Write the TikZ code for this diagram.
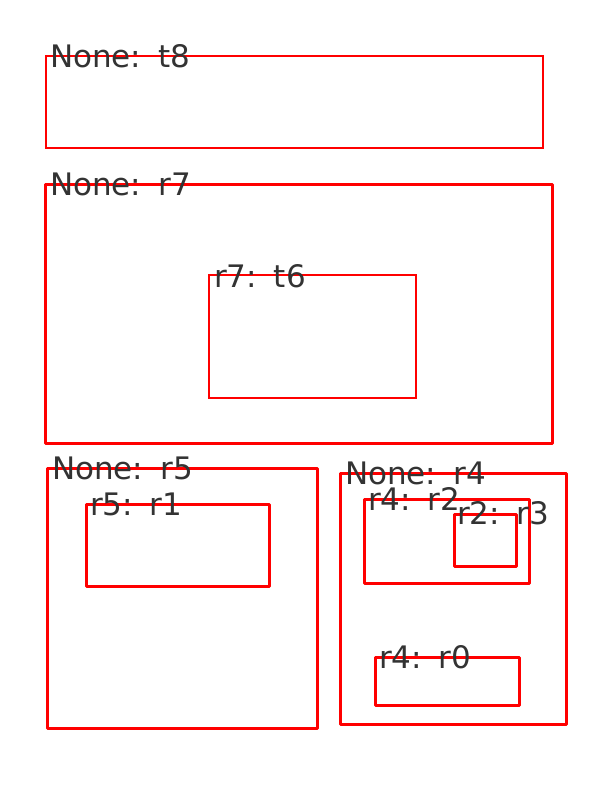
\documentclass[tikz,border=0pt]{standalone}
\usepackage{fontspec}
\setmainfont{DejaVu Sans}
\definecolor{lbl}{RGB}{51,51,51}
\newcommand{\gapsp}{\hspace{0.55em}}
\begin{document}
\begin{tikzpicture}[x=1pt,y=-1pt,
  box/.style={draw=red, line width=3pt, inner sep=0pt, outer sep=0pt, anchor=north west, line join=round},
  thinbox/.style={draw=red, line width=1.2pt, inner sep=0pt, outer sep=0pt, anchor=north west},
  lab/.style={anchor=base west, inner sep=0pt, outer sep=0pt, text=lbl, font=\fontsize{31}{32}\selectfont}]
\useasboundingbox[fill=white] (0,0) rectangle (614,792);
% rectangles
\node[thinbox, minimum width=497pt, minimum height=92pt] (t8) at (46,56) {};
\node[box, minimum width=507pt, minimum height=259pt] (r7) at (45,184) {};
\node[thinbox, minimum width=207pt, minimum height=123pt] (t6) at (209,275) {};
\node[box, minimum width=270pt, minimum height=260pt] (r5) at (47,468) {};
\node[box, minimum width=183pt, minimum height=82pt] (r1) at (86,504) {};
\node[box, minimum width=226pt, minimum height=251pt] (r4) at (340,473) {};
\node[box, minimum width=165pt, minimum height=84pt] (r2) at (364,499) {};
\node[box, minimum width=62pt, minimum height=52pt] (r3) at (454,514) {};
\node[box, minimum width=144pt, minimum height=48pt] (r0) at (375,657) {};
% labels
\node[lab] (lt8) at (50,67) {None:\gapsp t8};
\node[lab] (lr7) at (50,195) {None:\gapsp r7};
\node[lab] (lt6) at (214,287) {r7:\gapsp t6};
\node[lab] (lr5) at (52,479) {None:\gapsp r5};
\node[lab] (lr1) at (90,515) {r5:\gapsp r1};
\node[lab] (lr4) at (345,484) {None:\gapsp r4};
\node[lab] (lr2) at (368,510) {r4:\gapsp r2};
\node[lab] (lr3) at (457,524) {r2:\gapsp r3};
\node[lab] (lr0) at (379,668) {r4:\gapsp r0};
\end{tikzpicture}
\end{document}
